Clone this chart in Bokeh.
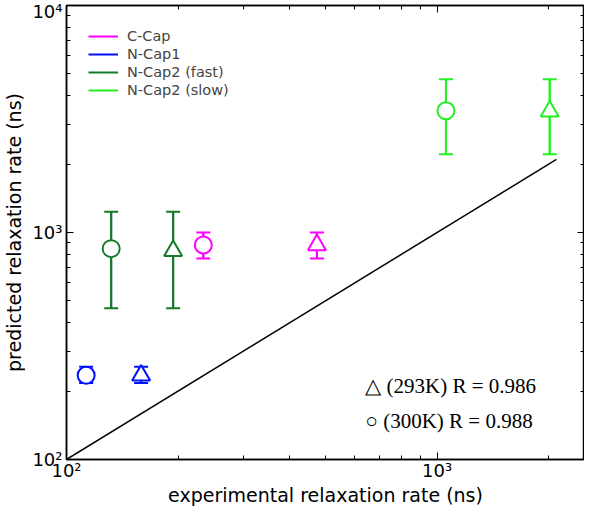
from bokeh.plotting import figure
from bokeh.models import (ColumnDataSource, Whisker, TeeHead, Label, LogAxis,
                          FixedTicker, Legend, LegendItem,
                          CustomLabelingPolicy)
from bokeh.embed import file_html
from bokeh.resources import INLINE

# ---- data ----
series = ["C-Cap", "N-Cap1", "N-Cap2 (fast)", "N-Cap2 (slow)"]
colors = ["#ff00ff", "#0010ff", "#127a2a", "#22f022"]

# experimental rates: (300K circle, 293K triangle)
exp_300 = [234, 113, 132, 1057]
exp_293 = [474, 159, 194, 2014]
# predicted rates
pred_300 = [881, 235, 849, 3436]
pred_293 = [881, 235, 830, 3420]
pred_hi = [1000, 256, 1234, 4730]
pred_lo = [768, 217, 464, 2213]

diag = [100, 2100]

major_ticks = [100, 1000, 10000]
tick_labels = {100: "10\u00b2", 1000: "10\u00b3", 10000: "10\u2074"}
minor_ticks = [200, 300, 400, 500, 600, 700, 800, 900,
               2000, 3000, 4000, 5000, 6000, 7000, 8000, 9000]

x_title = "experimental relaxation rate (ns)"
y_title = "predicted relaxation rate (ns)"

fig = figure(width=584, height=508, x_axis_type="log", y_axis_type="log",
             x_range=(100, 2500), y_range=(100, 10000),
             output_backend="svg", toolbar_location=None,
             min_border_left=62, min_border_right=0, min_border_top=5,
             min_border_bottom=0)
fig.grid.visible = False
fig.outline_line_color = "black"
fig.outline_line_width = 1.5
fig.background_fill_color = "white"

fig.line(diag, diag, line_color="black", line_width=1.5)

legend_items = []
for i, name in enumerate(series):
    src = ColumnDataSource(dict(x=[exp_300[i], exp_293[i]],
                                y=[pred_300[i], pred_293[i]],
                                hi=[pred_hi[i], pred_hi[i]],
                                lo=[pred_lo[i], pred_lo[i]]))
    r = fig.segment(x0="x", y0="lo", x1="x", y1="hi", source=src,
                    line_color=colors[i], line_width=2)
    w = Whisker(base="x", upper="hi", lower="lo", source=src,
                dimension="height", line_color=colors[i], line_width=2,
                upper_head=TeeHead(size=14, line_color=colors[i], line_width=2),
                lower_head=TeeHead(size=14, line_color=colors[i], line_width=2))
    fig.add_layout(w)
    fig.scatter([exp_300[i]], [pred_300[i]], marker="circle", size=17,
                fill_color="white", line_color=colors[i], line_width=2)
    fig.scatter([exp_293[i]], [pred_293[i]], marker="triangle", size=18,
                fill_color="white", line_color=colors[i], line_width=2)
    legend_items.append(LegendItem(label=name, renderers=[r]))

legend = Legend(items=legend_items, location="top_left",
                label_text_font="DejaVu Sans", label_text_font_size="14.5px",
                glyph_width=30, glyph_height=18, label_height=18,
                spacing=0, padding=15, margin=7,
                border_line_alpha=0, background_fill_alpha=0,
                label_standoff=9)
fig.add_layout(legend)

for ax in (fig.xaxis[0], fig.yaxis[0]):
    ax.ticker = FixedTicker(ticks=major_ticks, minor_ticks=minor_ticks)
    ax.major_label_overrides = tick_labels
    ax.major_tick_in = 7
    ax.major_tick_out = 0
    ax.minor_tick_in = 4
    ax.minor_tick_out = 0
    ax.axis_line_color = "black"
    ax.axis_line_width = 1.5
    ax.major_label_text_font = "DejaVu Sans"
    ax.major_label_text_font_size = "18px"
    ax.major_label_text_color = "black"
    ax.axis_label_text_font = "DejaVu Sans"
    ax.axis_label_text_font_size = "19px"
    ax.axis_label_text_font_style = "normal"
    ax.axis_label_text_color = "black"

fig.xaxis[0].axis_label = x_title
fig.yaxis[0].axis_label = y_title
fig.xaxis[0].major_label_standoff = 0
fig.xaxis[0].axis_label_standoff = 0
fig.yaxis[0].major_label_standoff = 4
fig.yaxis[0].axis_label_standoff = 4

for loc in ("right", "above"):
    ax = LogAxis(ticker=FixedTicker(ticks=major_ticks, minor_ticks=minor_ticks))
    ax.major_label_overrides = {100: "", 1000: "", 10000: ""}
    ax.major_tick_in = 7
    ax.major_tick_out = 0
    ax.minor_tick_in = 4
    ax.minor_tick_out = 0
    ax.major_label_policy = CustomLabelingPolicy(code="return new Set()")
    ax.major_label_standoff = 0
    ax.axis_label_standoff = 0
    ax.axis_line_color = "black"
    ax.axis_line_width = 1.5
    fig.add_layout(ax, loc)

fig.add_layout(Label(x=640, y=211, text="\u25b3 (293K)  R = 0.986",
                     text_font="Liberation Serif", text_font_size="21px",
                     text_baseline="middle", text_color="black"))
fig.add_layout(Label(x=640, y=148, text="\u25cb (300K)  R = 0.988",
                     text_font="Liberation Serif", text_font_size="21px",
                     text_baseline="middle", text_color="black"))

open("out.html", "w").write(file_html(fig, INLINE))
